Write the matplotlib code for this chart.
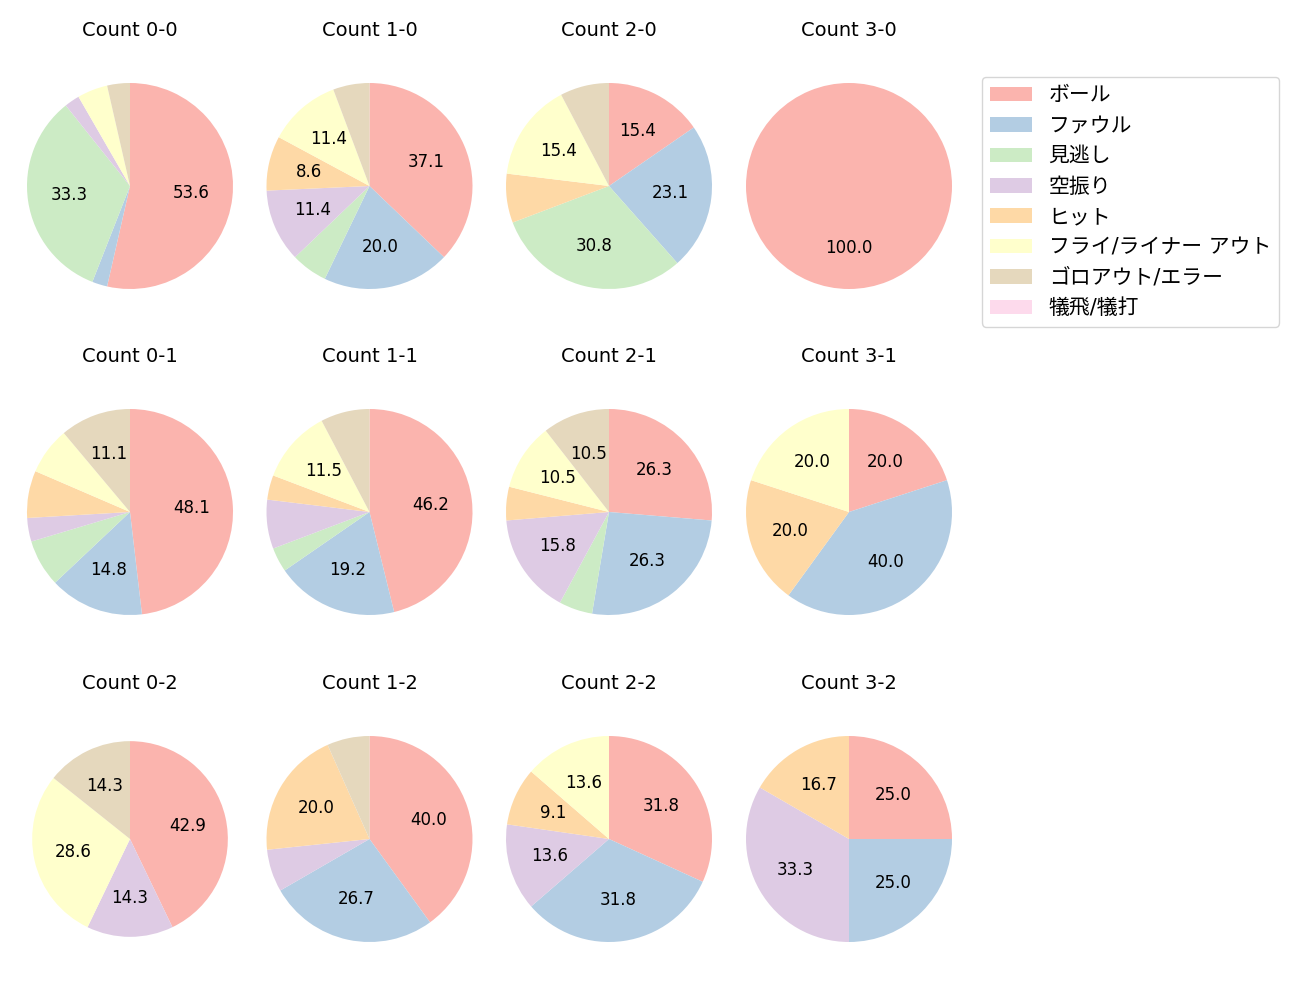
import numpy as np
import matplotlib.pyplot as plt
from matplotlib.patches import Patch

plt.rcParams['font.family'] = ['DejaVu Sans', 'Noto Sans CJK JP']

categories = ['ボール', 'ファウル', '見逃し', '空振り', 'ヒット',
              'フライ/ライナー アウト', 'ゴロアウト/エラー', '犠飛/犠打']
counts = ['0-0', '1-0', '2-0', '3-0',
          '0-1', '1-1', '2-1', '3-1',
          '0-2', '1-2', '2-2', '3-2']
# pitches per category for each count (same order as categories)
values = [
    [45, 2, 28, 2, 0, 4, 3, 0],   # 0-0
    [13, 7, 2, 4, 3, 4, 2, 0],    # 1-0
    [2, 3, 4, 0, 1, 2, 1, 0],     # 2-0
    [1, 0, 0, 0, 0, 0, 0, 0],     # 3-0
    [13, 4, 2, 1, 2, 2, 3, 0],    # 0-1
    [12, 5, 1, 2, 1, 3, 2, 0],    # 1-1
    [5, 5, 1, 3, 1, 2, 2, 0],     # 2-1
    [1, 2, 0, 0, 1, 1, 0, 0],     # 3-1
    [3, 0, 0, 1, 0, 2, 1, 0],     # 0-2
    [6, 4, 0, 1, 3, 0, 1, 0],     # 1-2
    [7, 7, 0, 3, 2, 3, 0, 0],     # 2-2
    [3, 3, 0, 4, 2, 0, 0, 0],     # 3-2
]

colors = plt.cm.Pastel1.colors[:8]

W, H = 1300, 1000
fig = plt.figure(figsize=(13, 10), dpi=100)

xc = [130, 369.5, 609, 849]
yc = [186, 512, 839]
box = 257.5

for i, (cnt, vals) in enumerate(zip(counts, values)):
    r, c = divmod(i, 4)
    ax = fig.add_axes([(xc[c] - box / 2) / W, 1 - (yc[r] + box / 2) / H, box / W, box / H])
    rad = 0.95 if cnt == '0-2' else 1.0
    ax.pie(vals, colors=colors, startangle=90, counterclock=False, radius=rad,
           autopct=lambda p: f'{p:.1f}' if p >= 8 else '',
           textprops={'fontsize': 12})
    ax.set_title(f'Count {cnt}', fontsize=14, pad=15)

handles = [Patch(facecolor=col, label=lab) for col, lab in zip(colors, categories)]
fig.legend(handles=handles, loc='upper left', bbox_to_anchor=(982 / W, 1 - 77 / H),
           borderaxespad=0, fontsize=15, handlelength=2.0, handletextpad=0.8)

plt.savefig('out.png')
